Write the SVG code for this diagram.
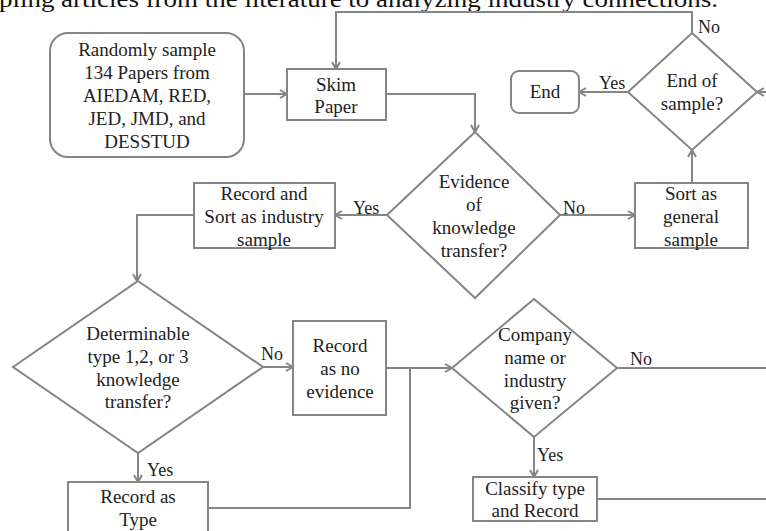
<svg xmlns="http://www.w3.org/2000/svg" width="766" height="531" viewBox="0 0 766 531">
<defs>
<marker id="arr" markerWidth="10" markerHeight="10" refX="8" refY="5" orient="auto" markerUnits="userSpaceOnUse">
<path d="M1,1 L8,5 L1,9" fill="none" stroke="#858585" stroke-width="2"/>
</marker>
<style>
.n{fill:#fff;stroke:#858585;stroke-width:2}
.t{font-family:"Liberation Serif","Times New Roman",serif;font-size:19px;fill:#222;text-anchor:middle}
.l{font-family:"Liberation Serif","Times New Roman",serif;font-size:18px;fill:#222}
.c{fill:none;stroke:#858585;stroke-width:2}
</style>
</defs>
<rect width="766" height="531" fill="#fff"/>
<text x="-1" y="7" font-family="Liberation Serif, serif" font-size="23" fill="#111" textLength="719" lengthAdjust="spacingAndGlyphs">pling articles from the literature to analyzing industry connections.</text>

<g id="connectors">
<path class="c" d="M244,94 H287" marker-end="url(#arr)"/>
<path class="c" d="M386,94 H475 V132" marker-end="url(#arr)"/>
<path class="c" d="M387,215 H335" marker-end="url(#arr)"/>
<path class="c" d="M560,215 H635" marker-end="url(#arr)"/>
<path class="c" d="M692,183 V150" marker-end="url(#arr)"/>
<path class="c" d="M628,92 H579" marker-end="url(#arr)"/>
<path class="c" d="M692,33 V12 H336 V69" marker-end="url(#arr)"/>
<path class="c" d="M767,92 H757" marker-end="url(#arr)"/>
<path class="c" d="M194,215 H137 V281" marker-end="url(#arr)"/>
<path class="c" d="M263,367 H293" marker-end="url(#arr)"/>
<path class="c" d="M138,453 V482" marker-end="url(#arr)"/>
<path class="c" d="M386,368 H452" marker-end="url(#arr)"/>
<path class="c" d="M208,508 H410 V368"/>
<path class="c" d="M617,368 H767"/>
<path class="c" d="M534,437 V477" marker-end="url(#arr)"/>
<path class="c" d="M597,499 H767"/>
<text class="l" x="353" y="214">Yes</text>
<text class="l" x="563" y="214">No</text>
<text class="l" x="698" y="33">No</text>
<text class="l" x="599" y="89">Yes</text>
<text class="l" x="261" y="360">No</text>
<text class="l" x="147" y="476">Yes</text>
<text class="l" x="630" y="365">No</text>
<text class="l" x="537" y="461">Yes</text>
</g>

<g id="start">
<rect class="n" x="50" y="33" width="194" height="124" rx="18"/>
<text class="t" x="147" y="56">Randomly sample</text>
<text class="t" x="147" y="79">134 Papers from</text>
<text class="t" x="147" y="102">AIEDAM, RED,</text>
<text class="t" x="147" y="125">JED, JMD, and</text>
<text class="t" x="147" y="148">DESSTUD</text>
</g>

<g id="skim">
<rect class="n" x="287" y="69" width="99" height="51"/>
<text class="t" x="336" y="91">Skim</text>
<text class="t" x="336" y="113">Paper</text>
</g>

<g id="end">
<rect class="n" x="511" y="71" width="68" height="42" rx="8"/>
<text class="t" x="545" y="98">End</text>
</g>

<g id="endofsample">
<polygon class="n" points="692,33 757,92 692,150 628,92"/>
<text class="t" x="692" y="87">End of</text>
<text class="t" x="692" y="110">sample?</text>
</g>

<g id="sortgeneral">
<rect class="n" x="635" y="183" width="113" height="65"/>
<text class="t" x="691" y="200">Sort as</text>
<text class="t" x="691" y="223">general</text>
<text class="t" x="691" y="246">sample</text>
</g>

<g id="evidence">
<polygon class="n" points="475,132 560,215 475,298 387,215"/>
<text class="t" x="474" y="188">Evidence</text>
<text class="t" x="474" y="211">of</text>
<text class="t" x="474" y="234">knowledge</text>
<text class="t" x="474" y="257">transfer?</text>
</g>

<g id="recordsort">
<rect class="n" x="194" y="183" width="141" height="65"/>
<text class="t" x="264" y="200">Record and</text>
<text class="t" x="264" y="223">Sort as industry</text>
<text class="t" x="264" y="246">sample</text>
</g>

<g id="determinable">
<polygon class="n" points="138,281 263,367 138,453 13,367"/>
<text class="t" x="138" y="340">Determinable</text>
<text class="t" x="138" y="363">type 1,2, or 3</text>
<text class="t" x="138" y="386">knowledge</text>
<text class="t" x="138" y="408">transfer?</text>
</g>

<g id="noevidence">
<rect class="n" x="293" y="321" width="93" height="94"/>
<text class="t" x="340" y="352">Record</text>
<text class="t" x="340" y="375">as no</text>
<text class="t" x="340" y="398">evidence</text>
</g>

<g id="company">
<polygon class="n" points="534,299 617,368 534,437 452,368"/>
<text class="t" x="535" y="341">Company</text>
<text class="t" x="535" y="364">name or</text>
<text class="t" x="535" y="387">industry</text>
<text class="t" x="535" y="409">given?</text>
</g>

<g id="recordtype">
<rect class="n" x="68" y="482" width="140" height="60"/>
<text class="t" x="138" y="503">Record as</text>
<text class="t" x="138" y="526">Type</text>
</g>

<g id="classify">
<rect class="n" x="473" y="477" width="124" height="44"/>
<text class="t" x="535" y="495">Classify type</text>
<text class="t" x="535" y="517">and Record</text>
</g>
</svg>
